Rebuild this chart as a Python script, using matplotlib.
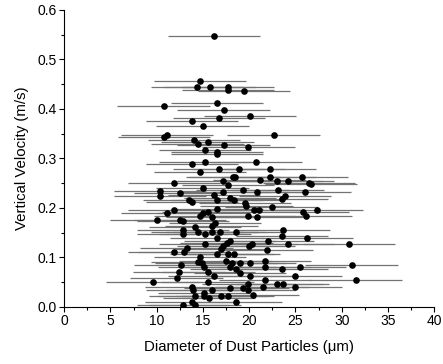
import numpy as np
import matplotlib
matplotlib.use("Agg")
import matplotlib.pyplot as plt
from matplotlib.ticker import MultipleLocator, FormatStrFormatter

# particle diameter (um) and vertical velocity (m/s)
diameter = [
    16.2, 14.67, 14.35, 15.75, 17.73, 17.73, 19.46, 10.74, 16.5, 17.23,
    13.8, 16.76, 20.08, 14.96, 10.81, 11.14, 22.64, 14.05, 15.5, 14.42,
    17.23, 19.9, 15.21, 16.5, 16.5, 13.8, 15.21, 20.72, 14.67, 16.76,
    18.85, 22.24, 18.2, 18.45, 21.12, 22.24, 23.0, 24.18, 25.7, 26.49,
    26.67, 11.86, 17.2, 17.73, 14.96, 19.28, 20.86, 23.14, 25.99, 17.2,
    10.35, 10.35, 12.54, 16.2, 16.5, 13.48, 13.8, 17.9, 18.35, 19.54,
    19.7, 23.9, 23.5, 22.42, 16.5, 11.86, 11.14, 15.58, 15.05, 20.5,
    21.1, 25.8, 27.35, 26.1, 14.67, 16.0, 19.9, 20.8, 9.99, 12.5,
    12.86, 12.86, 12.86, 14.13, 14.42, 15.21, 15.93, 16.29, 16.0, 16.8,
    16.47, 18.6, 23.7, 23.56, 26.27, 22.05, 17.9, 17.55, 17.2, 16.94,
    15.21, 20.26, 20.0, 24.18, 30.78, 13.23, 12.94, 11.86, 16.47, 17.73,
    18.35, 21.88, 14.67, 14.42, 14.85, 15.1, 15.58, 16.18, 17.45, 18.16,
    18.99, 17.9, 18.6, 18.99, 20.08, 21.7, 21.7, 23.5, 25.48, 31.07,
    12.58, 12.4, 12.15, 9.55, 15.5, 20.08, 21.7, 25.0, 31.5, 22.96,
    23.68, 25.0, 21.45, 19.9, 19.28, 19.9, 17.9, 13.77, 13.88, 16.0,
    15.14, 14.13, 15.14, 15.67, 17.0, 17.73, 18.6, 13.77, 14.13, 12.86,
    20.4,
]
velocity = [
    0.547, 0.457, 0.444, 0.444, 0.444, 0.439, 0.437, 0.406, 0.411, 0.398,
    0.376, 0.381, 0.386, 0.365, 0.343, 0.347, 0.347, 0.338, 0.334, 0.328,
    0.326, 0.322, 0.317, 0.312, 0.309, 0.289, 0.292, 0.292, 0.272, 0.279,
    0.279, 0.279, 0.262, 0.263, 0.257, 0.262, 0.254, 0.254, 0.262, 0.251,
    0.248, 0.250, 0.254, 0.246, 0.241, 0.237, 0.233, 0.237, 0.233, 0.233,
    0.234, 0.224, 0.229, 0.225, 0.215, 0.216, 0.212, 0.220, 0.215, 0.210,
    0.204, 0.224, 0.218, 0.202, 0.198, 0.195, 0.190, 0.191, 0.190, 0.195,
    0.195, 0.191, 0.195, 0.183, 0.183, 0.181, 0.183, 0.181, 0.176, 0.176,
    0.174, 0.156, 0.148, 0.161, 0.152, 0.148, 0.164, 0.169, 0.152, 0.152,
    0.139, 0.152, 0.156, 0.144, 0.139, 0.134, 0.134, 0.129, 0.122, 0.117,
    0.127, 0.127, 0.122, 0.127, 0.127, 0.119, 0.111, 0.111, 0.107, 0.107,
    0.107, 0.114, 0.100, 0.090, 0.088, 0.080, 0.071, 0.063, 0.092, 0.089,
    0.089, 0.080, 0.076, 0.068, 0.089, 0.092, 0.080, 0.076, 0.080, 0.085,
    0.085, 0.071, 0.058, 0.051, 0.051, 0.063, 0.054, 0.063, 0.055, 0.0465,
    0.0465, 0.041, 0.041, 0.0465, 0.038, 0.035, 0.038, 0.040, 0.035, 0.034,
    0.028, 0.022, 0.021, 0.018, 0.021, 0.021, 0.009, 0.009, 0.004, 0.004,
    0.024,
]
diameter_err = 5.0  # half-width of the horizontal bars (um)

plt.rcParams["font.family"] = ["Liberation Sans", "DejaVu Sans"]
plt.rcParams["font.size"] = 10

fig = plt.figure(figsize=(4.43, 3.64), dpi=100)
ax = fig.add_axes([0.145, 0.157, 0.835, 0.816])

ax.errorbar(diameter, velocity, xerr=diameter_err, fmt="none",
            ecolor="0.45", elinewidth=0.9, capsize=0, zorder=1)
ax.plot(diameter, velocity, "o", color="black", markersize=4.8,
        markeredgewidth=0, zorder=2)

ax.set_xlim(0, 40)
ax.set_ylim(0, 0.6)
ax.xaxis.set_major_locator(MultipleLocator(5))
ax.xaxis.set_minor_locator(MultipleLocator(2.5))
ax.yaxis.set_major_locator(MultipleLocator(0.1))
ax.yaxis.set_minor_locator(MultipleLocator(0.05))
ax.yaxis.set_major_formatter(FormatStrFormatter("%.1f"))

ax.spines["top"].set_visible(False)
ax.spines["right"].set_visible(False)
ax.tick_params(which="major", direction="out", length=3.5, width=0.8,
               labelsize=10, pad=2)
ax.tick_params(which="minor", direction="out", length=2, width=0.8)

ax.set_xlabel("Diameter of Dust Particles (\u03bcm)", fontsize=10.8, labelpad=8)
ax.set_ylabel("Vertical Velocity (m/s)", fontsize=10.8, labelpad=6)

fig.savefig("out.png", dpi=100)
